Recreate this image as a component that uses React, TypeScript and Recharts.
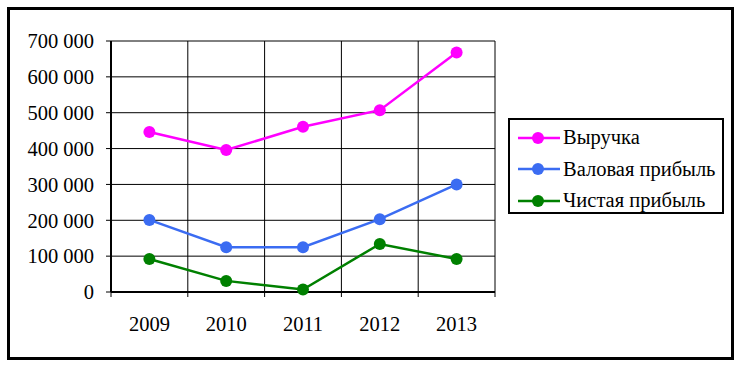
import React from "react";
import { LineChart, Line, XAxis, YAxis, CartesianGrid, Legend } from "recharts";

// ─── Data ───────────────────────────────────────────────
const years = ["2009", "2010", "2011", "2012", "2013"];
const revenue = [446000, 396000, 461000, 507000, 668000];
const grossProfit = [201000, 125000, 125000, 203000, 300000];
const netProfit = [92000, 31000, 7000, 134000, 92000];
const yTicks = [0, 100000, 200000, 300000, 400000, 500000, 600000, 700000];

const seriesNames = ["Выручка", "Валовая прибыль", "Чистая прибыль"];
const colors = ["#ff00ff", "#3b6cf2", "#008000"];

// categories sit in the middle of each band: band i spans [i, i+1]
const data = years.map((year, i) => ({
    x: i + 0.5,
    year,
    revenue: revenue[i],
    gross: grossProfit[i],
    net: netProfit[i],
}));
const bandEdges = years.map((_, i) => i).concat(years.length);
const bandCenters = data.map((d) => d.x);

const FONT = '"Liberation Serif", "Times New Roman", serif';

function formatThousands(v: number): string {
    return String(v).replace(/\B(?=(\d{3})+(?!\d))/g, " ");
}

// ─── Legend box ─────────────────────────────────────────
function LegendBox({ payload }: { payload?: Array<{ value: string; color: string }> }) {
    if (!payload) return null;
    // keep series order (legend sorts by name otherwise)
    const items = [...payload].sort(
        (a, b) => seriesNames.indexOf(a.value) - seriesNames.indexOf(b.value)
    );
    return (
        <div
            style={{
                boxSizing: "border-box",
                width: 216,
                height: 96,
                border: "2px solid #000",
                background: "#fff",
                padding: "2px 0 0 8px",
                fontFamily: FONT,
                fontSize: 20.5,
                color: "#000",
            }}
        >
            {items.map((entry, i) => (
                <div key={i} style={{ display: "flex", alignItems: "center", height: 31.5 }}>
                    <svg width={42} height={14} style={{ marginRight: 3 }}>
                        <line x1={0} y1={7} x2={42} y2={7} stroke={entry.color} strokeWidth={2.5} />
                        <circle cx={20} cy={7} r={6} fill={entry.color} />
                    </svg>
                    <span style={{ whiteSpace: "nowrap" }}>{entry.value}</span>
                </div>
            ))}
        </div>
    );
}

// ─── Component ──────────────────────────────────────────
export default function App() {
    return (
        <div style={{ position: "absolute", left: 0, top: 0, width: 740, height: 365, background: "#fff" }}>
            <div
                style={{
                    position: "absolute",
                    left: 7,
                    top: 7,
                    width: 727,
                    height: 353,
                    boxSizing: "border-box",
                    border: "3px solid #000",
                }}
            />
            <LineChart
                width={740}
                height={365}
                data={data}
                margin={{ top: 41, right: 245, bottom: 0, left: 0 }}
                style={{ position: "absolute", left: 0, top: 0 }}
            >
                <CartesianGrid stroke="#000" strokeWidth={1} />
                <XAxis
                    xAxisId={0}
                    dataKey="x"
                    type="number"
                    domain={[0, years.length]}
                    ticks={bandEdges}
                    interval={0}
                    height={5}
                    tickSize={5}
                    tickFormatter={() => ""}
                    axisLine={{ stroke: "#000", strokeWidth: 2 }}
                    tickLine={{ stroke: "#000", strokeWidth: 1 }}
                />
                <XAxis
                    xAxisId="labels"
                    dataKey="x"
                    type="number"
                    domain={[0, years.length]}
                    ticks={bandCenters}
                    interval={0}
                    height={68}
                    tickSize={0}
                    tickMargin={19}
                    axisLine={false}
                    tickLine={false}
                    tickFormatter={(v: number) => years[Math.floor(v)]}
                    tick={{ fill: "#000", fontSize: 20.5, fontFamily: FONT }}
                />
                <YAxis
                    domain={[0, 700000]}
                    ticks={yTicks}
                    interval={0}
                    width={111}
                    tickSize={5}
                    tickMargin={12}
                    tickFormatter={formatThousands}
                    axisLine={{ stroke: "#000", strokeWidth: 2 }}
                    tickLine={{ stroke: "#000", strokeWidth: 1 }}
                    tick={{ fill: "#000", fontSize: 20.5, fontFamily: FONT }}
                />
                <YAxis
                    yAxisId="right"
                    orientation="right"
                    domain={[0, 700000]}
                    width={0}
                    tick={false}
                    tickLine={false}
                    axisLine={{ stroke: "#000", strokeWidth: 2 }}
                />
                <Legend
                    layout="horizontal"
                    align="center"
                    verticalAlign="middle"
                    wrapperStyle={{ left: 508, top: 118, width: 216, height: 96 }}
                    content={(props: any) => <LegendBox payload={props.payload} />}
                />
                <Line
                    dataKey="revenue"
                    name={seriesNames[0]}
                    stroke={colors[0]}
                    strokeWidth={2.5}
                    dot={{ r: 6, fill: colors[0], stroke: "none" }}
                    isAnimationActive={false}
                />
                <Line
                    dataKey="gross"
                    name={seriesNames[1]}
                    stroke={colors[1]}
                    strokeWidth={2.5}
                    dot={{ r: 6, fill: colors[1], stroke: "none" }}
                    isAnimationActive={false}
                />
                <Line
                    dataKey="net"
                    name={seriesNames[2]}
                    stroke={colors[2]}
                    strokeWidth={2.5}
                    dot={{ r: 6, fill: colors[2], stroke: "none" }}
                    isAnimationActive={false}
                />
            </LineChart>
        </div>
    );
}
